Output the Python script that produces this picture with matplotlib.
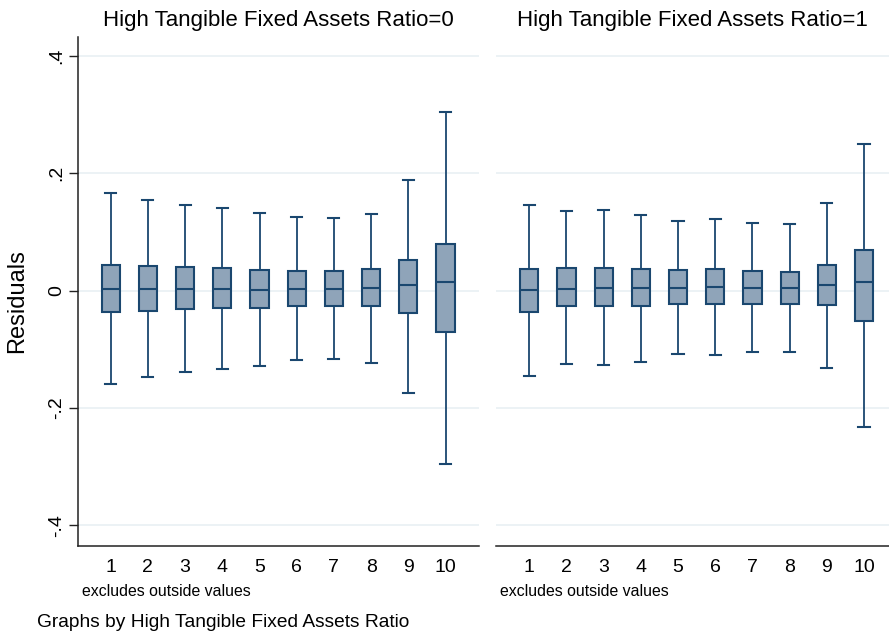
import matplotlib
matplotlib.use("Agg")
import matplotlib.pyplot as plt

plt.rcParams['font.family'] = ['Liberation Sans', 'DejaVu Sans']

# --- Decile groups on the x axis:
groups = [str(i) for i in range(1, 11)]

# --- Residual summaries, High Tangible Fixed Assets Ratio = 0
whishi_0 = [0.166, 0.154, 0.146, 0.141, 0.133, 0.125, 0.123, 0.131, 0.188, 0.304]
q3_0     = [0.043, 0.042, 0.040, 0.038, 0.035, 0.034, 0.034, 0.036, 0.052, 0.079]
med_0    = [0.002, 0.002, 0.002, 0.002, 0.001, 0.003, 0.003, 0.004, 0.010, 0.014]
q1_0     = [-0.037, -0.034, -0.031, -0.030, -0.030, -0.026, -0.026, -0.027, -0.038, -0.070]
whislo_0 = [-0.159, -0.147, -0.138, -0.134, -0.128, -0.119, -0.117, -0.123, -0.174, -0.295]

# --- Residual summaries, High Tangible Fixed Assets Ratio = 1
whishi_1 = [0.146, 0.136, 0.137, 0.129, 0.119, 0.122, 0.116, 0.114, 0.150, 0.250]
q3_1     = [0.037, 0.038, 0.039, 0.037, 0.035, 0.036, 0.034, 0.031, 0.044, 0.069]
med_1    = [0.001, 0.002, 0.005, 0.004, 0.005, 0.006, 0.005, 0.004, 0.010, 0.015]
q1_1     = [-0.037, -0.027, -0.026, -0.026, -0.022, -0.022, -0.022, -0.023, -0.025, -0.052]
whislo_1 = [-0.146, -0.125, -0.127, -0.121, -0.108, -0.109, -0.104, -0.104, -0.131, -0.233]

yticks      = [-0.4, -0.2, 0, 0.2, 0.4]
ytick_text  = ["-.4", "-.2", "0", ".2", ".4"]

navy  = '#1a476f'
fill  = '#8fa4b9'
gridc = '#eaf1f4'


def box_stats(lo, q1, med, q3, hi):
    stats = []
    for i in range(len(groups)):
        stats.append(dict(label=groups[i], whislo=lo[i], q1=q1[i], med=med[i],
                          q3=q3[i], whishi=hi[i], fliers=[]))
    return stats


def draw_panel(ax, stats, title, xlim):
    ax.bxp(stats,
           positions=range(1, len(groups) + 1),
           widths=0.49,
           capwidths=0.3,
           showfliers=False,
           patch_artist=True,
           boxprops=dict(facecolor=fill, edgecolor=navy, linewidth=1.5),
           medianprops=dict(color=navy, linewidth=1.5),
           whiskerprops=dict(color=navy, linewidth=1.3),
           capprops=dict(color=navy, linewidth=1.5))
    ax.set_xlim(*xlim)
    ax.set_ylim(-0.435, 0.432)
    ax.set_yticks(yticks)
    ax.set_yticklabels(ytick_text)
    ax.yaxis.grid(True, color=gridc, linewidth=1.3)
    ax.set_axisbelow(True)
    for side in ['top', 'right']:
        ax.spines[side].set_visible(False)
    ax.spines['bottom'].set_color('#222222')
    ax.spines['bottom'].set_linewidth(1.1)
    ax.tick_params(axis='x', length=0, labelsize=14, pad=9)
    ax.set_title(title, fontsize=16, pad=8)
    ax.text(0.01, -0.09, "excludes outside values", transform=ax.transAxes,
            fontsize=11.4, ha='left', va='center')


fig = plt.figure(figsize=(8.89, 6.36), dpi=100)
ax0 = fig.add_axes([0.0877, 0.1415, 0.4511, 0.8003])
ax1 = fig.add_axes([0.5579, 0.1415, 0.4421, 0.8003])

draw_panel(ax0, box_stats(whislo_0, q1_0, med_0, q3_0, whishi_0),
           "High Tangible Fixed Assets Ratio=0", (0.12, 10.9))
draw_panel(ax1, box_stats(whislo_1, q1_1, med_1, q3_1, whishi_1),
           "High Tangible Fixed Assets Ratio=1", (0.105, 10.67))

ax0.spines['left'].set_color('#222222')
ax0.spines['left'].set_linewidth(1.1)
ax0.tick_params(axis='y', length=6.5, width=1.0, color='#222222', labelsize=14, pad=3)
plt.setp(ax0.get_yticklabels(), rotation=90, va='center')
ax0.set_ylabel("Residuals", fontsize=17)
ax0.yaxis.set_label_coords(-0.124, 0.481)

ax1.spines['left'].set_visible(False)
ax1.tick_params(axis='y', left=False, labelleft=False)

fig.text(0.042, 0.022, "Graphs by High Tangible Fixed Assets Ratio", fontsize=13.8,
         ha='left', va='center')

plt.savefig('out.png', dpi=100)
